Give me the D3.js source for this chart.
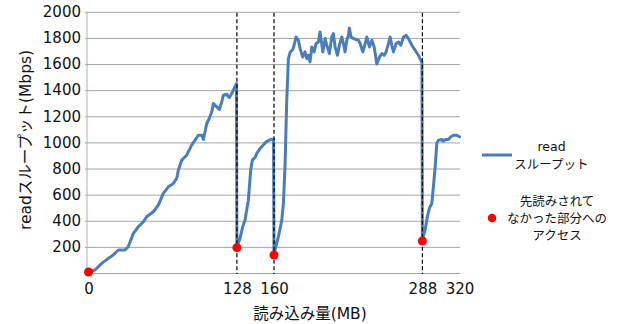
<!DOCTYPE html>
<html>
<head>
<meta charset="utf-8">
<script src="https://cdn.jsdelivr.net/npm/d3@7"></script>
<style>
  body { margin: 0; background: #fff; }
  svg { display: block; }
  text { font-family: "DejaVu Sans", "Noto Sans CJK JP", sans-serif; fill: #111; }
</style>
</head>
<body>
<svg id="chart" width="619" height="324"></svg>
<script>
// Read throughput (Mbps) against amount read (MB)
const readMB = [
  0, 5.6, 11.4, 17.1, 21.4, 25.7, 31.5, 34.3, 38.7, 43.0, 47.3, 50.2, 55.9, 60.2, 64.5,
  68.9, 73.2, 76.1, 77.5, 80.4, 84.7, 89.0, 91.9, 94.7, 97.7, 99.1, 102.0, 104.2, 106.3,
  107.7, 110.6, 112.9, 114.9, 116.3, 119.2, 121.5, 123.6, 126.4, 127.6,
  128, 130.7, 133.0, 135.0, 137.9, 139.9, 141.3, 143.7, 145.1, 148.0, 149.4, 151.4,
  153.2, 156.0, 158.1, 159.6,
  160, 163.8, 166.7, 168.1, 169.5, 171.0, 172.4, 173.9, 176.2, 177.3, 179.0, 181.0,
  182.5, 184.8, 186.8, 188.3, 189.7, 191.1, 192.6, 194.6, 196.3, 198.3, 199.7, 202.1,
  204.1, 205.5, 207.8, 209.8, 211.2, 212.7, 214.7, 216.4, 218.5, 219.9, 221.3, 222.8,
  224.2, 225.0, 226.5, 228.5, 232.8, 234.3, 236.6, 238.6, 240.1, 242.3, 244.4, 246.4,
  248.7, 251.0, 253.1, 255.0, 256.7, 258.7, 260.2, 261.6, 263.0, 265.4, 267.3, 269.4,
  271.7, 274.0, 276.0, 278.9, 281.8, 284.6, 286.7, 287.6,
  288, 290.3, 292.3, 294.0, 296.1, 297.5, 299.0, 300.4, 301.8, 304.7, 306.1, 308.5,
  310.4, 312.5, 314.8, 317.7, 320
];
const readMbps = [
  10, 23, 74, 112, 138, 176, 176, 201, 304, 354, 392, 431, 469, 520, 610,
  660, 686, 724, 788, 864, 902, 979, 1017, 1055, 1055, 1023, 1145, 1183, 1234,
  1298, 1272, 1252, 1310, 1361, 1369, 1344, 1374, 1430, 1450,
  200, 265, 354, 405, 558, 788, 864, 885, 915, 954, 966, 987,
  1004, 1017, 1025, 1025,
  145, 278, 405, 533, 813, 1323, 1640, 1690, 1711, 1744, 1807, 1782,
  1718, 1654, 1693, 1642, 1667, 1616, 1731, 1693, 1757, 1769, 1846, 1693,
  1795, 1744, 1680, 1807, 1833, 1731, 1667, 1744, 1807, 1757, 1693, 1782,
  1820, 1875, 1807, 1795, 1782, 1757, 1693, 1757, 1807, 1731, 1782, 1731,
  1600, 1654, 1680, 1667, 1693, 1757, 1807, 1744, 1693, 1757, 1769, 1744,
  1807, 1820, 1795, 1744, 1705, 1667, 1629, 1616,
  260, 329, 431, 495, 533, 660, 813, 992, 1017, 1023, 1010, 1023,
  1023, 1043, 1055, 1055, 1043
];

// Accesses to data that had not been read ahead
const missMB = [0, 128, 160, 288];
const missMbps = [8, 194, 138, 245];

// Vertical markers and axis ticks
const markerMB = [128, 160, 288];
const xTickValues = [0, 128, 160, 288, 320];
const yTickValues = [0, 200, 400, 600, 800, 1000, 1200, 1400, 1600, 1800, 2000];

const xTitle = "読み込み量(MB)";
const yTitle = "readスループット(Mbps)";
const legendLine = ["read", "スループット"];
const legendDot = ["先読みされて", "なかった部分への", "アクセス"];

const svg = d3.select("#chart");
const x = d3.scaleLinear().domain([0, 320]).range([88.5, 459.5]);
const y = d3.scaleLinear().domain([0, 2000]).range([273, 11.8]);

// Gridlines and y tick labels
const yAxis = svg.append("g")
  .attr("transform", "translate(87,0)")
  .call(d3.axisLeft(y).tickValues(yTickValues).tickSize(-373).tickPadding(6)
    .tickFormat(d => d === 0 ? "" : d));
yAxis.select(".domain").remove();
yAxis.selectAll(".tick line").attr("stroke", "#a5a5a5").attr("stroke-width", 1)
  .attr("x1", -2);
yAxis.selectAll(".tick text").attr("font-size", 15).attr("fill", "#111")
  .attr("font-family", "DejaVu Sans, sans-serif");

// Left axis line
svg.append("line")
  .attr("x1", 87).attr("x2", 87).attr("y1", y(2000)).attr("y2", y(0))
  .attr("stroke", "#b0b0b0").attr("stroke-width", 1);

// x tick labels
const xAxis = svg.append("g")
  .attr("transform", `translate(0,${y(0)})`)
  .call(d3.axisBottom(x).tickValues(xTickValues).tickSize(0).tickPadding(10));
xAxis.select(".domain").remove();
xAxis.selectAll(".tick text").attr("font-size", 15).attr("fill", "#111")
  .attr("font-family", "DejaVu Sans, sans-serif");

// Throughput line
const line = d3.line().x(d => x(d[0])).y(d => y(d[1]));
svg.append("path")
  .datum(readMB.map((m, i) => [m, readMbps[i]]))
  .attr("d", line)
  .attr("fill", "none")
  .attr("stroke", "#4a7ebb")
  .attr("stroke-width", 3)
  .attr("stroke-linejoin", "round")
  .attr("stroke-linecap", "round");

// Dashed markers
svg.append("g").selectAll("line")
  .data(markerMB)
  .join("line")
  .attr("x1", d => x(d)).attr("x2", d => x(d))
  .attr("y1", y(2000) + 1).attr("y2", y(0) + 1)
  .attr("stroke", "#000").attr("stroke-width", 1.2)
  .attr("stroke-dasharray", "4,2.5");

// Miss points
svg.append("g").selectAll("circle")
  .data(missMB.map((m, i) => [m, missMbps[i]]))
  .join("circle")
  .attr("cx", d => x(d[0])).attr("cy", d => y(d[1]))
  .attr("r", 4.5)
  .attr("fill", "#ff0000");

// Axis titles
svg.append("text")
  .attr("x", 310).attr("y", 319)
  .attr("text-anchor", "middle").attr("font-size", 15.5)
  .text(xTitle);
svg.append("text")
  .attr("transform", "translate(31,140) rotate(-90)")
  .attr("text-anchor", "middle").attr("font-size", 15.5)
  .text(yTitle);

// Legend
const legend = svg.append("g");
legend.append("line")
  .attr("x1", 482).attr("x2", 512).attr("y1", 155).attr("y2", 155)
  .attr("stroke", "#4a7ebb").attr("stroke-width", 3);
legend.selectAll("text.l1")
  .data(legendLine)
  .join("text")
  .attr("class", "l1")
  .attr("x", 551.5).attr("y", (d, i) => 150.5 + i * 18.5)
  .attr("text-anchor", "middle").attr("font-size", 12.5)
  .text(d => d);
legend.append("circle")
  .attr("cx", 492).attr("cy", 218).attr("r", 4.3).attr("fill", "#ff0000");
legend.selectAll("text.l2")
  .data(legendDot)
  .join("text")
  .attr("class", "l2")
  .attr("x", 557).attr("y", (d, i) => 206 + i * 16.8)
  .attr("text-anchor", "middle").attr("font-size", 12.5)
  .text(d => d);
</script>
</body>
</html>
